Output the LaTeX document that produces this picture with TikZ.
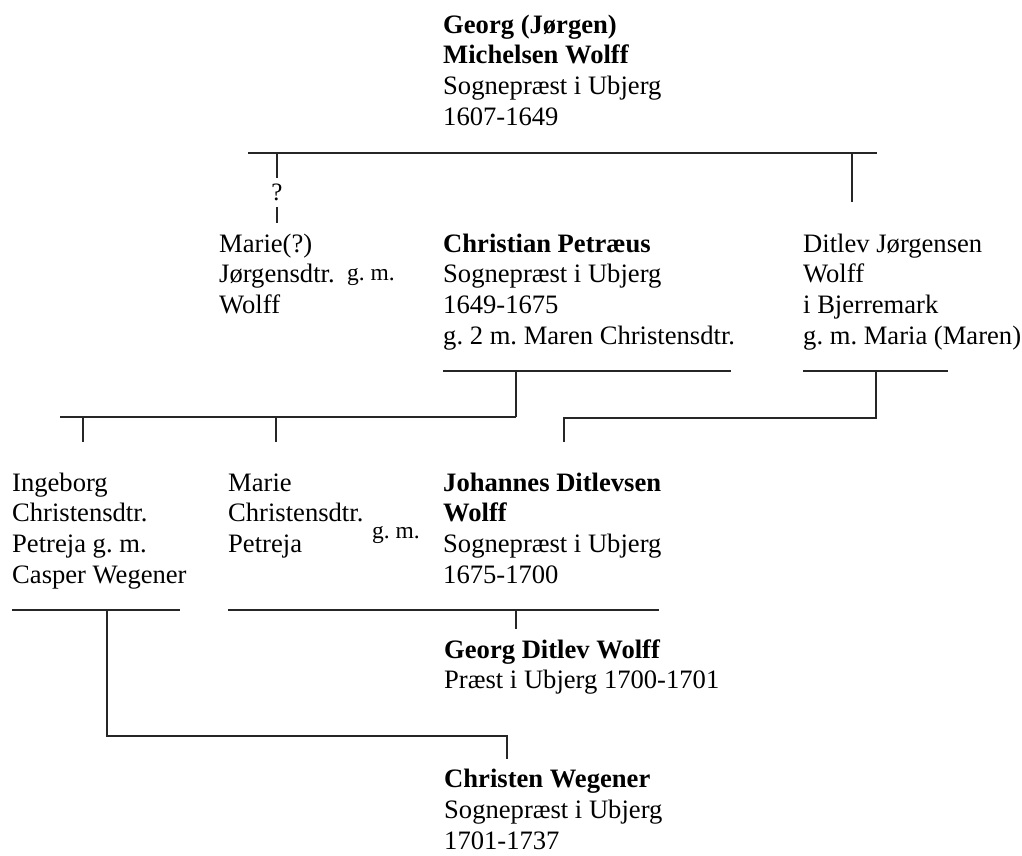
\documentclass[tikz,border=0pt]{standalone}
\usepackage{fontspec}
\setmainfont{Liberation Serif}
\frenchspacing
\begin{document}
\begin{tikzpicture}[x=1pt,y=-1pt,
  person/.style={anchor=north west, inner sep=0pt, align=left, font=\fontsize{26.6}{30.7}\selectfont},
  gm/.style={anchor=base west, inner sep=0pt, font=\fontsize{23.5}{27}\selectfont},
  qmark/.style={inner sep=0pt, font=\fontsize{25}{29}\selectfont},
  link/.style={line width=1.2pt, draw=black!85}]
\useasboundingbox (0,0) rectangle (1022,855);

% people
\node[person] (georg) at (443,11.5) {\strut\textbf{Georg (Jørgen)}\\\textbf{Michelsen Wolff}\\Sognepræst i Ubjerg\\1607-1649};
\node[person] (marie) at (219,230.5) {\strut Marie(?)\\Jørgensdtr.\\Wolff};
\node[gm] (gm1) at (347,280) {g. m.};
\node[person] (christian) at (443,230.5) {\strut\textbf{Christian Petræus}\\Sognepræst i Ubjerg\\1649-1675\\g. 2 m. Maren Christensdtr.};
\node[person] (ditlev) at (803,230.5) {\strut Ditlev Jørgensen\\Wolff\\i Bjerremark\\g. m. Maria (Maren)};
\node[person] (ingeborg) at (12,469.5) {\strut Ingeborg\\Christensdtr.\\Petreja g. m.\\Casper Wegener};
\node[person] (marie2) at (228,469.5) {\strut Marie\\Christensdtr.\\Petreja};
\node[gm] (gm2) at (372,538) {g. m.};
\node[person] (johannes) at (443,469.5) {\strut\textbf{Johannes Ditlevsen}\\\textbf{Wolff}\\Sognepræst i Ubjerg\\1675-1700};
\node[person] (georgd) at (444,636.5) {\strut\textbf{Georg Ditlev Wolff}\\Præst i Ubjerg 1700-1701};
\node[person] (christen) at (444,766) {\strut\textbf{Christen Wegener}\\Sognepræst i Ubjerg\\1701-1737};
\node[qmark] (q) at (277,192) {?};

% coordinates
\coordinate (topL) at (248,153);
\coordinate (topR) at (877,153);
\coordinate (tM) at (277,153);
\coordinate (tMend) at (277,178);
\coordinate (tM2) at (277,207);
\coordinate (tM2end) at (277,223);
\coordinate (tD) at (852,153);
\coordinate (tDend) at (852,202);

\coordinate (cL) at (443,371);
\coordinate (cR) at (731,371);
\coordinate (cM) at (516,371);
\coordinate (cJ) at (516,417);
\coordinate (cJL) at (60,417);
\coordinate (cI) at (83,417);
\coordinate (cIend) at (83,442);
\coordinate (cMa) at (276,417);
\coordinate (cMaend) at (276,442);

\coordinate (dL) at (803,371);
\coordinate (dR) at (948,371);
\coordinate (dM) at (876,371);
\coordinate (dJ) at (876,418);
\coordinate (dJo) at (564,418);
\coordinate (dJoend) at (564,442);

\coordinate (iL) at (12,610);
\coordinate (iR) at (180,610);
\coordinate (iM) at (107,610);
\coordinate (iJ) at (107,736);
\coordinate (iC) at (507,736);
\coordinate (iCend) at (507,759);

\coordinate (mL) at (228,610);
\coordinate (mR) at (659,610);
\coordinate (mM) at (516,610);
\coordinate (mMend) at (516,629);

% connectors
\draw[link] (topL) -- (topR);
\draw[link] (tM) -- (tMend);
\draw[link] (tM2) -- (tM2end);
\draw[link] (tD) -- (tDend);

\draw[link] (cL) -- (cR);
\draw[link] (cM) -- (cJ);
\draw[link] (cJL) -- (cJ);
\draw[link] (cI) -- (cIend);
\draw[link] (cMa) -- (cMaend);

\draw[link] (dL) -- (dR);
\draw[link] (dM) -- (dJ) -- (dJo) -- (dJoend);

\draw[link] (iL) -- (iR);
\draw[link] (iM) -- (iJ) -- (iC) -- (iCend);

\draw[link] (mL) -- (mR);
\draw[link] (mM) -- (mMend);
\end{tikzpicture}
\end{document}
